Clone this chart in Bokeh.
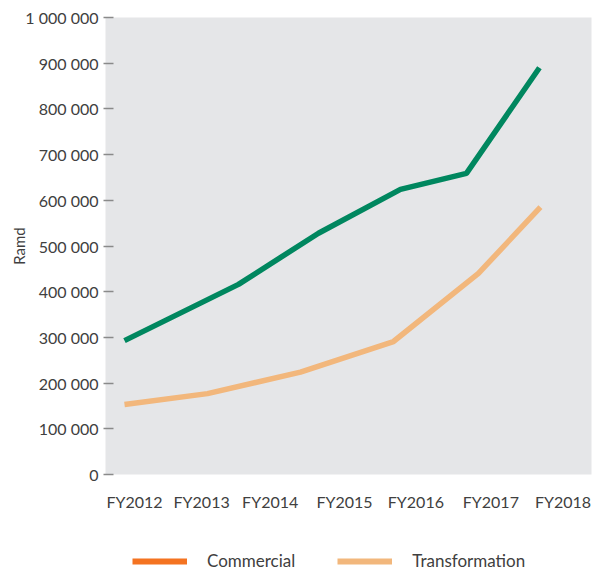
from bokeh.plotting import figure
from bokeh.layouts import column
from bokeh.models import FixedTicker, Legend, LegendItem, Range1d
from bokeh.embed import file_html
from bokeh.resources import INLINE

# Fiscal-year label positions on the x scale
year_ticks = [2012.0, 2012.94, 2013.9, 2014.94, 2015.94, 2016.99, 2018.0]
year_labels = ["FY2012", "FY2013", "FY2014", "FY2015", "FY2016", "FY2017", "FY2018"]

# Commercial series (drawn in green)
commercial_x = [2011.86, 2013.456, 2014.576, 2015.724, 2016.648, 2017.67]
commercial_y = [293000, 416000, 528000, 624000, 659000, 890000]

# Transformation series
transformation_x = [2011.86, 2013.022, 2014.324, 2015.626, 2016.816, 2017.684]
transformation_y = [153000, 177000, 224000, 291000, 440000, 585000]

# Value axis
value_ticks = [0, 100000, 200000, 300000, 400000, 500000, 600000, 700000, 800000, 900000, 1000000]
value_labels = ["0", "100 000", "200 000", "300 000", "400 000", "500 000", "600 000",
                "700 000", "800 000", "900 000", "1 000 000"]

# Legend entries
legend_names = ["Commercial", "Transformation"]
legend_colors = ["#F47321", "#F2B77C"]

FONT = "Lato"
TEXT = "#404040"

p = figure(frame_width=486, frame_height=457, output_backend="svg", toolbar_location=None,
           x_range=Range1d(2011.594, 2018.399), y_range=Range1d(0, 1000000),
           min_border_left=105, min_border_right=7, min_border_top=17, min_border_bottom=57)
p.background_fill_color = "#E5E6E8"
p.border_fill_color = "white"
p.outline_line_color = None
p.grid.grid_line_color = None

p.line(commercial_x, commercial_y, line_color="#00875F", line_width=5.5)
p.line(transformation_x, transformation_y, line_color="#F2B77C", line_width=5.5)

# x axis: labels only
xa = p.xaxis[0]
xa.ticker = FixedTicker(ticks=year_ticks)
xa.major_label_overrides = dict(zip(year_ticks, year_labels))
xa.axis_line_color = None
xa.major_tick_line_color = None
xa.minor_tick_line_color = None
xa.major_label_standoff = 11
xa.major_label_text_font = FONT
xa.major_label_text_font_size = "16px"
xa.major_label_text_color = TEXT

# y axis
ya = p.yaxis[0]
ya.ticker = FixedTicker(ticks=value_ticks)
ya.major_label_overrides = dict(zip(value_ticks, value_labels))
ya.axis_line_color = None
ya.minor_tick_line_color = None
ya.major_tick_line_color = "#8A8A8A"
ya.major_tick_line_width = 1.5
ya.major_tick_out = 2
ya.major_tick_in = 8
ya.major_label_standoff = 5
ya.major_label_text_font = FONT
ya.major_label_text_font_size = "16px"
ya.major_label_text_color = TEXT
ya.axis_label = "Ramd"
ya.axis_label_text_font = FONT
ya.axis_label_text_font_size = "15px"
ya.axis_label_text_font_style = "normal"
ya.axis_label_text_color = TEXT
ya.axis_label_standoff = -6

# legend strip beneath the chart (frame aligned with the chart frame)
lg = figure(width=598, height=40, output_backend="svg", toolbar_location=None,
            x_axis_type=None, y_axis_type=None, min_border=0,
            x_range=Range1d(0, 1), y_range=Range1d(0, 1))
lg.outline_line_color = None
lg.grid.grid_line_color = None
items = []
for name, color in zip(legend_names, legend_colors):
    # single-point line: nothing visible in the strip, only the legend swatch
    r = lg.line([0.5], [0.5], line_color=color, line_width=6)
    items.append(LegendItem(label=name, renderers=[r]))
legend = Legend(items=items, orientation="horizontal", location=(27, 0),
                glyph_width=55, glyph_height=20, label_standoff=20, spacing=42,
                padding=0, margin=0, border_line_color=None, background_fill_alpha=0,
                label_text_font=FONT, label_text_font_size="17px", label_text_color=TEXT,
                label_height=20)
lg.add_layout(legend, "center")

layout = column(p, lg, spacing=0)
open("out.html", "w").write(file_html(layout, INLINE))
